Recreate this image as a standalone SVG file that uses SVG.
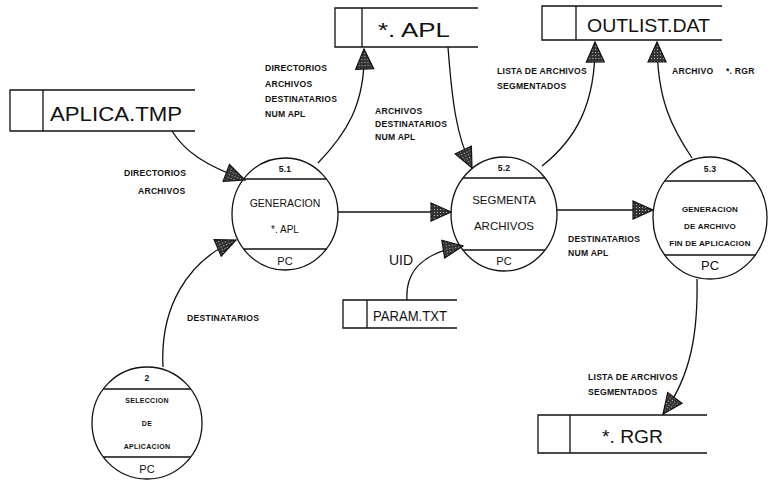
<svg xmlns="http://www.w3.org/2000/svg" width="774" height="490" viewBox="0 0 774 490">
<style>
.bg{fill:#fff}
.st{fill:none;stroke:#111;stroke-width:1.3}
.nd{fill:none;stroke:#111;stroke-width:1.3}
.cn{fill:none;stroke:#111;stroke-width:1.3}
text{font-family:"Liberation Sans",Arial,sans-serif;fill:#111}
.big{font-size:20px}
.lbl{font-size:8.6px;font-weight:bold;letter-spacing:0.25px}
.ct{text-anchor:middle}
</style>
<defs>
<pattern id="stip" width="3" height="3" patternUnits="userSpaceOnUse">
<rect width="3" height="3" fill="#333"/>
<rect x="1" y="1" width="1" height="1" fill="#bbb"/>
</pattern>
<marker id="ah" viewBox="0 0 22 20" refX="21" refY="10" markerWidth="22" markerHeight="20" markerUnits="userSpaceOnUse" orient="auto">
<path d="M1,1 L21,10 L1,19 z" fill="url(#stip)" stroke="#111" stroke-width="1.2"/>
</marker>
</defs>
<rect class="bg" width="774" height="490"/>

<g id="store-aplica-tmp">
<path class="st" d="M195,90 H10 V131 H195 M43,90 V131"/>
<text class="big" x="50" y="121" textLength="132" lengthAdjust="spacingAndGlyphs">APLICA.TMP</text>
</g>
<g id="store-apl">
<path class="st" d="M478,8 H335 V47 H478 M362,8 V47"/>
<text class="big" x="378" y="37" textLength="72" lengthAdjust="spacingAndGlyphs">*. APL</text>
</g>
<g id="store-outlist">
<path class="st" d="M722,6 H542 V40 H722 M576,6 V40"/>
<text x="587" y="32" font-size="19" textLength="123" lengthAdjust="spacingAndGlyphs">OUTLIST.DAT</text>
</g>
<g id="store-param">
<path class="st" d="M457,300 H343 V328 H457 M367,300 V328"/>
<text x="373" y="321" font-size="14" textLength="74" lengthAdjust="spacingAndGlyphs">PARAM.TXT</text>
</g>
<g id="store-rgr">
<path class="st" d="M707,415 H538 V453 H707 M570,415 V453"/>
<text x="602" y="443" font-size="19" textLength="61" lengthAdjust="spacingAndGlyphs">*. RGR</text>
</g>

<g id="proc-5-1">
<ellipse class="nd" cx="285" cy="214" rx="53" ry="56"/>
<path class="nd" d="M243.6,179 H326.4 M243.6,249 H326.4"/>
<text class="ct lbl" x="285" y="172" letter-spacing="1.5">5.1</text>
<text class="ct" x="285" y="207" font-size="10.5">GENERACION</text>
<text class="ct" x="285" y="233" font-size="10">*. APL</text>
<text class="ct" x="285" y="265" font-size="11">PC</text>
</g>
<g id="proc-5-2">
<ellipse class="nd" cx="504" cy="214" rx="53" ry="57"/>
<path class="nd" d="M463,178 H545 M463,250 H545"/>
<text class="ct lbl" x="504" y="171" letter-spacing="1.5">5.2</text>
<text class="ct" x="504" y="204" font-size="11.5">SEGMENTA</text>
<text class="ct" x="504" y="230" font-size="11.5">ARCHIVOS</text>
<text class="ct" x="504" y="265" font-size="11">PC</text>
</g>
<g id="proc-5-3">
<ellipse class="nd" cx="710" cy="218" rx="57" ry="61"/>
<path class="nd" d="M664.7,181 H755.3 M664.7,255 H755.3"/>
<text class="ct lbl" x="710" y="172" letter-spacing="1.5">5.3</text>
<text class="ct lbl" x="710" y="212" style="font-size:8px;letter-spacing:0.2px">GENERACION</text>
<text class="ct lbl" x="710" y="229" style="font-size:8px;letter-spacing:0.2px">DE ARCHIVO</text>
<text class="ct lbl" x="710" y="246" style="font-size:8px;letter-spacing:0.2px">FIN DE APLICACION</text>
<text class="ct" x="710" y="270" font-size="13">PC</text>
</g>
<g id="proc-2">
<ellipse class="nd" cx="147" cy="423" rx="55" ry="56"/>
<path class="nd" d="M103.3,389 H190.7 M103.3,457 H190.7"/>
<text class="ct lbl" x="147" y="381">2</text>
<text class="ct lbl" x="147" y="403" style="font-size:7px;letter-spacing:0.3px">SELECCION</text>
<text class="ct lbl" x="147" y="426" style="font-size:7px;letter-spacing:0.3px">DE</text>
<text class="ct lbl" x="147" y="449" style="font-size:7px;letter-spacing:0.3px">APLICACION</text>
<text class="ct" x="147" y="473" font-size="11">PC</text>
</g>

<g id="connectors">
<path class="cn" marker-end="url(#ah)" d="M172,131 C185,152 205,165 245,180"/>
<path class="cn" marker-end="url(#ah)" d="M163,367 C160,310 185,262 236,240"/>
<path class="cn" marker-end="url(#ah)" d="M318,163 C345,135 366,105 364,49"/>
<path class="cn" marker-end="url(#ah)" d="M448,47 C452,100 456,135 472,168"/>
<path class="cn" marker-end="url(#ah)" d="M338,212 L451,212"/>
<path class="cn" marker-end="url(#ah)" d="M407,300 C405,270 425,252 463,246"/>
<path class="cn" marker-end="url(#ah)" d="M542,166 C575,140 596,105 595,42"/>
<path class="cn" marker-end="url(#ah)" d="M692,158 C672,128 657,100 657,42"/>
<path class="cn" marker-end="url(#ah)" d="M557,210 L653,210"/>
<path class="cn" marker-end="url(#ah)" d="M697,279 C698,330 692,375 663,414"/>
</g>

<g id="labels">
<text class="lbl" x="124" y="176">DIRECTORIOS</text>
<text class="lbl" x="138" y="194">ARCHIVOS</text>
<text class="lbl" x="187" y="321">DESTINATARIOS</text>
<text class="lbl" x="265" y="71">DIRECTORIOS</text>
<text class="lbl" x="265" y="87">ARCHIVOS</text>
<text class="lbl" x="265" y="102">DESTINATARIOS</text>
<text class="lbl" x="265" y="117">NUM APL</text>
<text class="lbl" x="375" y="114">ARCHIVOS</text>
<text class="lbl" x="375" y="127">DESTINATARIOS</text>
<text class="lbl" x="375" y="140">NUM APL</text>
<text x="389" y="265" font-size="14">UID</text>
<text class="lbl" x="497" y="74">LISTA DE ARCHIVOS</text>
<text class="lbl" x="497" y="89">SEGMENTADOS</text>
<text class="lbl" x="672" y="74">ARCHIVO<tspan x="726">*. RGR</tspan></text>
<text class="lbl" x="568" y="242">DESTINATARIOS</text>
<text class="lbl" x="568" y="256">NUM APL</text>
<text class="lbl" x="588" y="380">LISTA DE ARCHIVOS</text>
<text class="lbl" x="588" y="395">SEGMENTADOS</text>
</g>
</svg>
